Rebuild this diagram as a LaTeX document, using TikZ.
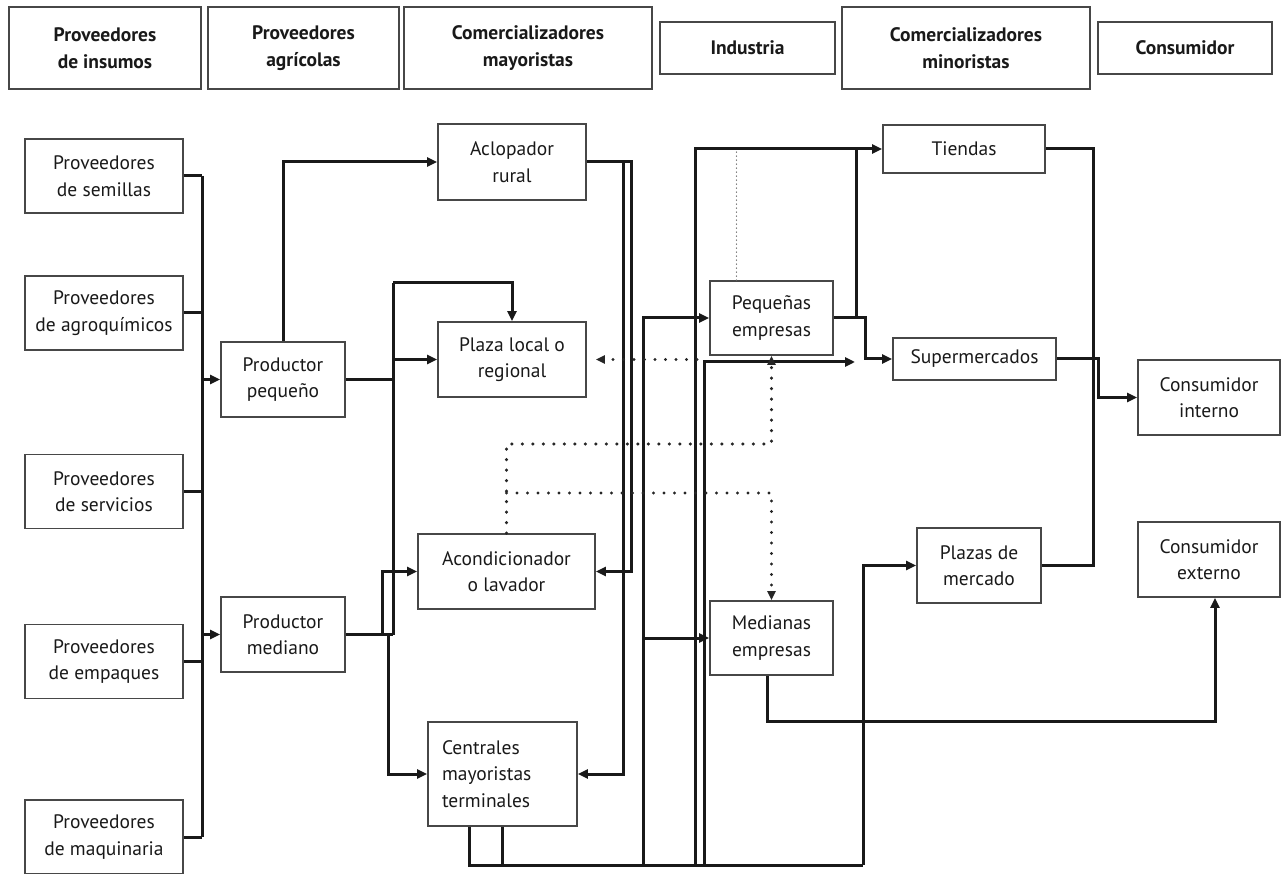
\documentclass[tikz,border=0pt]{standalone}
\usepackage{fontspec}
\setmainfont{PT Sans}
\usetikzlibrary{arrows.meta}

\tikzset{
    caja/.style={draw=black!72, line width=1.8pt, text=black!90, align=center,
        inner sep=2pt, font=\fontsize{19.5}{26.5}\selectfont},
    encabezado/.style={caja, font=\bfseries\fontsize{19.5}{27}\selectfont},
    linea/.style={line width=3pt, draw=black!90, line join=miter},
    flecha/.style={linea, -{Triangle[length=10pt,width=9pt]}},
    punteado/.style={line width=3.4pt, draw=black!85, line cap=round, dash pattern=on 0pt off 10.5pt},
    punteadoflecha/.style={punteado, -{Triangle[length=9pt,width=8pt]}},
    punteadofino/.style={line width=1.4pt, draw=black!60, line cap=round, dash pattern=on 0pt off 4pt}
}

\begin{document}
\begin{tikzpicture}[x=1pt, y=-1pt]

    % Fijamos el marco
    \useasboundingbox (0,0) rectangle (1283,874);

    % Encabezados de los eslabones
    \node[encabezado, minimum width=192, minimum height=82] (h1) at (105,48) {Proveedores\\de insumos};
    \node[encabezado, minimum width=191, minimum height=82] (h2) at (303.5,48) {Proveedores\\agrícolas};
    \node[encabezado, minimum width=248, minimum height=82] (h3) at (528,48) {Comercializadores\\mayoristas};
    \node[encabezado, minimum width=175, minimum height=52] (h4) at (747.5,48) {Industria};
    \node[encabezado, minimum width=248, minimum height=82] (h5) at (966,48) {Comercializadores\\minoristas};
    \node[encabezado, minimum width=174, minimum height=52] (h6) at (1185,48) {Consumidor};

    % Proveedores de insumos
    \foreach \n/\t/\y in {sem/semillas/176, agro/agroquímicos/313, serv/servicios/491.5,
                          emp/empaques/661.5, maq/maquinaria/837}
        \node[caja, minimum width=158, minimum height=74] (\n) at (104,\y) {Proveedores\\de \t};

    % Productores
    \node[caja, minimum width=124, minimum height=75] (peq) at (283,379.5) {Productor\\pequeño};
    \node[caja, minimum width=124, minimum height=75] (med) at (283,634.5) {Productor\\mediano};

    % Mayoristas
    \node[caja, minimum width=148, minimum height=76] (acl) at (512,162) {Aclopador\\rural};
    \node[caja, minimum width=148, minimum height=75] (plaza) at (512,359.5) {Plaza local o\\regional};
    \node[caja, minimum width=177, minimum height=75] (acond) at (506.5,571.5) {Acondicionador\\o lavador};
    \node[caja, align=left, text width=121, inner xsep=14, minimum height=104] (cent) at (502.5,774)
        {Centrales\\mayoristas\\terminales};

    % Industria
    \node[caja, minimum width=123, minimum height=74] (peqemp) at (771.5,318) {Pequeñas\\empresas};
    \node[caja, minimum width=123, minimum height=74] (medemp) at (771.5,638) {Medianas\\empresas};

    % Minoristas y consumidores
    \node[caja, minimum width=162, minimum height=48] (tiendas) at (964,149) {Tiendas};
    \node[caja, minimum width=163, minimum height=42] (super) at (974.5,359) {Supermercados};
    \node[caja, minimum width=124, minimum height=75] (plazas) at (979,565.5) {Plazas de\\mercado};
    \node[caja, minimum width=142, minimum height=75] (cint) at (1209,397.5) {Consumidor\\interno};
    \node[caja, minimum width=142, minimum height=75] (cext) at (1209,559.5) {Consumidor\\externo};

    % Bus de insumos
    \coordinate (busA) at (202,0);
    \foreach \n in {sem,agro,serv,emp,maq}
        \draw[linea] (\n.east) -- (\n.east -| busA);
    \draw[linea] (sem.east -| busA) -- (maq.east -| busA);
    \draw[flecha] (busA |- peq.west) -- (peq.west);
    \draw[flecha] (busA |- med.west) -- (med.west);

    % Salidas de los productores
    \coordinate (busB) at (393,0);
    \coordinate (ramA) at (382,0);
    \coordinate (ramB) at (388,0);
    \draw[flecha] (peq.north) |- (acl.west);
    \draw[linea] (peq.east) -- (peq.east -| busB);
    \draw[linea] (busB |- 0,283) -- (busB |- med.east);
    \draw[flecha] (busB |- 0,283) -| (plaza.north);
    \draw[flecha] (busB |- plaza.west) -- (plaza.west);
    \draw[linea] (med.east) -- (med.east -| busB);
    \draw[flecha] (ramA |- med.east) |- (acond.west);
    \draw[flecha] (ramB |- med.east) |- (cent.west);

    % Salidas del aclopador
    \coordinate (bajA) at (631,0);
    \coordinate (bajB) at (623,0);
    \draw[flecha] (acl.east) -| (bajA |- acond.east) -- (acond.east);
    \draw[flecha] (acl.east) -| (bajB |- cent.east) -- (cent.east);

    % Bus inferior de las centrales
    \coordinate (fondo) at (0,865);
    \coordinate (cs) at ([xshift=-33]cent.south);
    \coordinate (colA) at (643,865);
    \coordinate (colB) at (695,865);
    \coordinate (colC) at (704,865);
    \coordinate (colD) at (863,865);
    \coordinate (haciaSuper) at (855,362);
    \draw[linea] (cs) -- (cs |- fondo) -- (colD);
    \draw[linea] (cent.south) -- (cent.south |- fondo);
    \draw[flecha] (colA) |- (peqemp.west);
    \draw[flecha] (colA |- medemp.west) -- (medemp.west);
    \draw[flecha] (colB) |- (tiendas.west);
    \draw[flecha] (colC) |- (haciaSuper);
    \draw[flecha] (colD) |- (plazas.west);

    % Salidas de la industria
    \coordinate (subeT) at (856,318);
    \coordinate (bajaM) at ([xshift=-4]medemp.south);
    \draw[flecha] (peqemp.east) -- (865,318) |- (super.west);
    \draw[linea] (subeT) -- (subeT |- tiendas.west);
    \coordinate (colG) at (1215,721);
    \draw[flecha] (bajaM) |- (colG) -- (colG |- cext.south);

    % Hacia los consumidores
    \coordinate (colE) at (1093,0);
    \coordinate (colF) at (1098,0);
    \draw[linea] (tiendas.east) -| (colE |- plazas.east) -- (plazas.east);
    \draw[flecha] (super.east) -| (colF |- cint.west) -- (cint.west);

    % Flujos punteados
    \coordinate (pA) at (0,444);
    \coordinate (pB) at (0,493);
    \coordinate (desdeInd) at (697,0);
    \coordinate (fino) at ([xshift=-35]peqemp.north);
    \draw[punteadoflecha] (acond.north) |- (peqemp.south |- pA) -- (peqemp.south);
    \draw[punteadoflecha] (acond.north |- pB) -- (medemp.north |- pB) -- (medemp.north);
    \draw[punteadoflecha, shorten >=9pt] (desdeInd |- plaza.east) -- (plaza.east);
    \draw[punteadofino] (fino) -- (fino |- tiendas.west);

\end{tikzpicture}
\end{document}
